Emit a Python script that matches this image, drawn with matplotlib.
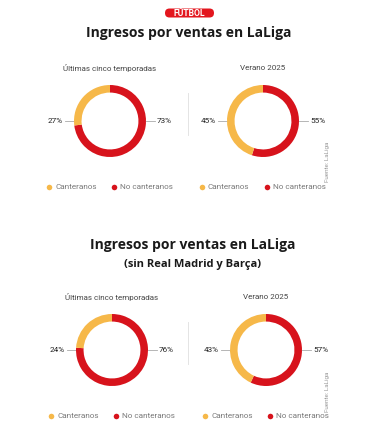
import matplotlib.pyplot as plt
from matplotlib.patches import FancyBboxPatch

W, H = 375, 434

legend_labels = ["Canteranos", "No canteranos"]
sub_titles = ["Últimas cinco temporadas", "Verano 2025"]

# values per block: (left donut, right donut) as [no canteranos, canteranos]
block1 = [[73, 27], [55, 45]]
block2 = [[76, 24], [57, 43]]

red = "#d7131c"
yellow = "#f6b849"
colors = [red, yellow]

fig = plt.figure(figsize=(W / 100, H / 100), dpi=100)
fig.patch.set_facecolor("white")

# full-figure axes in pixel units for text, lines and dots
bg = fig.add_axes([0, 0, 1, 1])
bg.set_xlim(0, W)
bg.set_ylim(H, 0)
bg.axis("off")


def donut(cx, cy, r, vals):
    # axes sized so that pie radius 1 is r pixels
    half = 1.25 * r
    ax = fig.add_axes([(cx - half) / W, 1 - (cy + half) / H, 2 * half / W, 2 * half / H])
    ax.pie(vals, colors=colors, startangle=90, counterclock=False, radius=1,
           wedgeprops=dict(width=0.21, edgecolor="none"))
    ax.set_xlim(-1.25, 1.25)
    ax.set_ylim(-1.25, 1.25)
    ax.set_aspect("equal")
    ax.axis("off")


def block(top, vals, centers, fuente_y):
    cy = top + 53
    r = 36
    for (cx, s), v in zip(zip(centers, sub_titles), vals):
        bg.text(cx, top, s, ha="center", va="center", fontsize=5.8,
                family="Roboto", color="#444444")
        donut(cx, cy, r, v)
        # percentage labels with leader lines
        bg.plot([cx - r - 9, cx - r], [cy, cy], color="#aaaaaa", lw=0.6)
        bg.plot([cx + r, cx + r + 9], [cy, cy], color="#aaaaaa", lw=0.6)
        bg.text(cx - r - 11, cy, f"{v[1]}%", ha="right", va="center", fontsize=5.9,
                family="Roboto", color="#222222")
        bg.text(cx + r + 11, cy, f"{v[0]}%", ha="left", va="center", fontsize=5.9,
                family="Roboto", color="#222222")
    # divider
    bg.plot([188, 188], [cy - 28, cy + 14], color="#e4e4e4", lw=0.7)
    # legends
    ly = cy + 66
    for cx in centers:
        x0 = cx - 61
        for i, lab in enumerate(legend_labels):
            c = yellow if lab == "Canteranos" else red
            dx = x0 + i * 65
            bg.plot([dx], [ly], marker="o", ms=4, color=c, mec="none", ls="none")
            bg.text(dx + 6, ly, lab, ha="left", va="center", fontsize=5.9,
                    family="Roboto", color="#7a7a7a")
    bg.text(328, fuente_y, "Fuente: LaLiga", rotation=90, ha="center", va="center",
            fontsize=4.5, family="Roboto", color="#999999")


# badge
bg.add_patch(FancyBboxPatch((165, 8.5), 49, 9, boxstyle="round,pad=0,rounding_size=4.5",
                            fc="#e3161e", ec="none"))
bg.text(189.5, 13.3, "FÚTBOL", ha="center", va="center", fontsize=6.2, fontweight="bold",
        family="Roboto", color="white")

bg.text(189, 33, "Ingresos por ventas en LaLiga", ha="center", va="center",
        fontsize=10, fontweight="bold", family="Open Sans", color="#1a1a1a")
block(68, block1, [110, 263], 162)

bg.text(193, 245, "Ingresos por ventas en LaLiga", ha="center", va="center",
        fontsize=10, fontweight="bold", family="Open Sans", color="#1a1a1a")
bg.text(193, 264, "(sin Real Madrid y Barça)", ha="center", va="center",
        fontsize=8, fontweight="bold", family="Open Sans", color="#1a1a1a")
block(297, block2, [112, 266], 392)

fig.savefig("out.png", dpi=100)
